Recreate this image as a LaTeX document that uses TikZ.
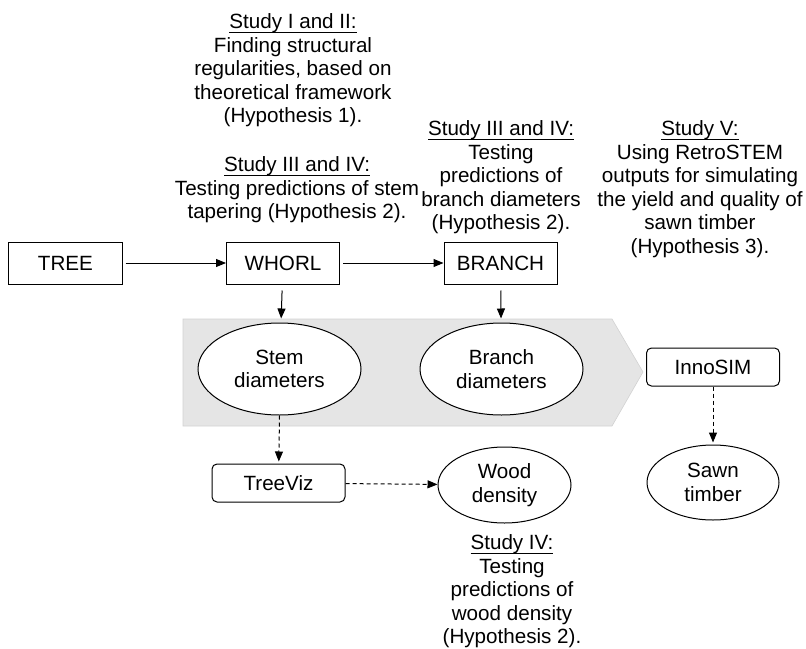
\documentclass[tikz,border=0pt]{standalone}
\usepackage{fontspec}
\setmainfont{Liberation Sans}
\usetikzlibrary{arrows.meta,shapes.geometric}

\newcommand{\studyhead}[1]{\setbox0\hbox{#1}\rlap{\rule[-4.2pt]{\wd0}{0.8pt}}\box0}

\begin{document}
\begin{tikzpicture}[x=1bp, y=-1bp, line width=1bp, font=\fontsize{20.7pt}{23.6bp}\selectfont,
    box/.style = {draw, rectangle, minimum width=113bp, minimum height=42bp, inner sep=0pt},
    tool/.style = {draw, rectangle, rounded corners=5bp, minimum width=133bp, minimum height=38bp, inner sep=0pt},
    blob/.style = {draw, ellipse, fill=white, inner sep=0pt, align=center},
    study/.style = {align=center, anchor=north, inner sep=0pt},
    arr/.style = {-{Triangle[length=10bp,width=8bp]}},
    dasharr/.style = {arr, dash pattern=on 4bp off 3bp}]

        \useasboundingbox (0,0) rectangle (806,649);

        % gray band behind the two diameter ellipses
        \filldraw[fill=gray!20, draw=gray!35, line width=0.6bp] (183,319) -- (612,319) -- (643,372) -- (612,426) -- (183,426) -- cycle;

        \node[box] (tree) at (65.5,263) {TREE};
        \node[box] (whorl) at (283,263) {WHORL};
        \node[box] (branch) at (500.5,263) {BRANCH};

        \node[blob, minimum width=163bp, minimum height=92bp] (stem) at (279.5,369) {Stem\\diameters};
        \node[blob, minimum width=163bp, minimum height=92bp] (bdiam) at (501.5,369) {Branch\\diameters};

        \node[tool] (innosim) at (713,367) {InnoSIM};
        \node[tool] (treeviz) at (278.5,483) {TreeViz};

        \node[blob, minimum width=133bp, minimum height=76bp] (wood) at (504.5,485) {Wood\\density};
        \node[blob, minimum width=132bp, minimum height=75bp] (sawn) at (713,482.5) {Sawn\\timber};

        \draw[arr, shorten <=3bp] (tree) -- (whorl);
        \draw[arr, shorten <=3bp] (whorl) -- (branch);
        \draw[arr, shorten <=6bp, shorten >=4bp] (whorl) -- (stem);
        \draw[arr, shorten <=6bp, shorten >=4bp] (branch) -- (bdiam);
        \draw[dasharr, shorten >=2bp] (stem.south) -- (treeviz);
        \draw[dasharr] (treeviz) -- (wood);
        \draw[dasharr, shorten >=2bp] (innosim) -- (sawn);

        % study texts
        \node[study] (s1) at (293,13) {\studyhead{Study I and II:}\\Finding structural\\regularities, based on\\theoretical framework\\(Hypothesis 1).};
        \node[study] (s2) at (297,156) {\studyhead{Study III and IV:}\\Testing predictions of stem\\tapering (Hypothesis 2).};
        \node[study] (s3) at (501,120) {\studyhead{Study III and IV:}\\Testing\\predictions of\\branch diameters\\(Hypothesis 2).};
        \node[study] (s4) at (700,120) {\studyhead{Study V:}\\Using RetroSTEM\\outputs for simulating\\the yield and quality of\\sawn timber\\(Hypothesis 3).};
        \node[study] (s5) at (512,534) {\studyhead{Study IV:}\\Testing\\predictions of\\wood density\\(Hypothesis 2).};

    \end{tikzpicture}
\end{document}
